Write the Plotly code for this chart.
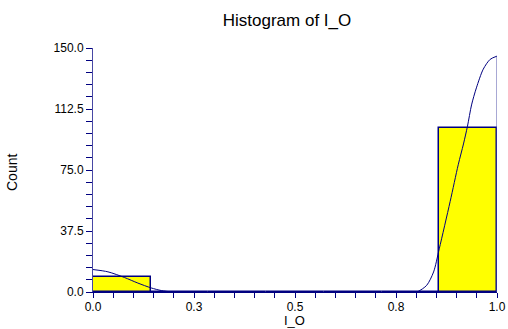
import plotly.graph_objects as go

# ---- data ----
bin_counts = [9, 0, 0, 0, 0, 0, 101]
bin_range = [0.0, 1.0]

curve_x = [0.0, 0.037, 0.078, 0.111, 0.144, 0.169, 0.194, 0.21,
           0.797, 0.805, 0.826, 0.843, 0.857, 0.884, 0.904, 0.917,
           0.927, 0.937, 0.949, 0.966, 0.983, 1.0]
curve_y = [13.8, 12.4, 8.9, 5.5, 2.5, 0.9, 0.1, 0.0,
           0.0, 0.4, 4.1, 12.3, 26.5, 55.6, 78.2, 91.0,
           102.0, 115.0, 125.5, 137.0, 143.0, 145.0]

x_tick_vals = [0.0, 0.25, 0.5, 0.75, 1.0]
x_tick_text = ["0.0", "0.3", "0.5", "0.8", "1.0"]
y_tick_vals = [0.0, 37.5, 75.0, 112.5, 150.0]
y_tick_text = ["0.0", "37.5", "75.0", "112.5", "150.0"]

title_text = "Histogram of I_O"
x_title = "I_O"
y_title = "Count"

# ---- derived ----
n_bins = len(bin_counts)
bw = (bin_range[1] - bin_range[0]) / n_bins
bin_centers = [bin_range[0] + (i + 0.5) * bw for i in range(n_bins)]

NAVY = "#000080"
FONT = "Arial, Liberation Sans, sans-serif"

fig = go.Figure()
fig.add_trace(go.Bar(
    x=bin_centers, y=bin_counts, width=bw,
    marker=dict(color="#FFFF00", line=dict(color=NAVY, width=1.5)),
    hoverinfo="skip", showlegend=False,
))
fig.add_trace(go.Scatter(
    x=curve_x, y=curve_y, mode="lines",
    line=dict(color=NAVY, width=1, shape="spline", smoothing=0.8),
    showlegend=False, hoverinfo="skip",
))
fig.add_trace(go.Scatter(
    x=[curve_x[-1], curve_x[-1]], y=[curve_y[-1], 0], mode="lines",
    line=dict(color="#5050a8", width=1),
    showlegend=False, hoverinfo="skip",
))

L, R, T, B = 93, 11, 48, 37
W, H = 508, 329
pw, ph = W - L - R, H - T - B

fig.update_layout(
    width=W, height=H,
    margin=dict(l=L, r=R, t=T, b=B, autoexpand=False),
    paper_bgcolor="white", plot_bgcolor="white",
    font=dict(family=FONT, color="black", size=12),
    title=dict(text=title_text, x=287 / W, xanchor="center",
               y=1 - 20 / H, yanchor="middle",
               font=dict(family=FONT, size=17, color="black")),
    bargap=0,
    xaxis=dict(
        range=bin_range, showgrid=False, zeroline=False,
        showline=True, linecolor=NAVY, linewidth=1,
        tickmode="array", tickvals=x_tick_vals, ticktext=x_tick_text,
        ticks="outside", ticklen=5, tickcolor=NAVY, tickwidth=1,
        tickfont=dict(family=FONT, size=12, color="black"),
        ticklabelstandoff=-1,
        minor=dict(tickmode="linear", tick0=0, dtick=0.05, ticks="outside",
                   ticklen=5, tickcolor=NAVY, tickwidth=1, showgrid=False),
    ),
    yaxis=dict(
        range=[0, 150], showgrid=False, zeroline=False,
        showline=True, linecolor="#4848a4", linewidth=1,
        tickmode="array", tickvals=y_tick_vals, ticktext=y_tick_text,
        ticks="outside", ticklen=6, tickcolor=NAVY, tickwidth=1,
        tickfont=dict(family=FONT, size=12, color="black"),
        minor=dict(tickmode="linear", tick0=0, dtick=7.5, ticks="outside",
                   ticklen=6, tickcolor=NAVY, tickwidth=1, showgrid=False),
    ),
    annotations=[
        dict(text=y_title, xref="paper", yref="paper",
             x=-(L - 12) / pw, y=(H - B - 173) / ph,
             xanchor="center", yanchor="middle", textangle=-90,
             showarrow=False, font=dict(family=FONT, size=14, color="black")),
        dict(text=x_title, xref="paper", yref="paper",
             x=(294 - L) / pw, y=-(329 - (H - B)) / ph,
             xanchor="center", yanchor="bottom", borderpad=0,
             showarrow=False, font=dict(family=FONT, size=13, color="black")),
    ],
)

fig.write_html("out.html")
